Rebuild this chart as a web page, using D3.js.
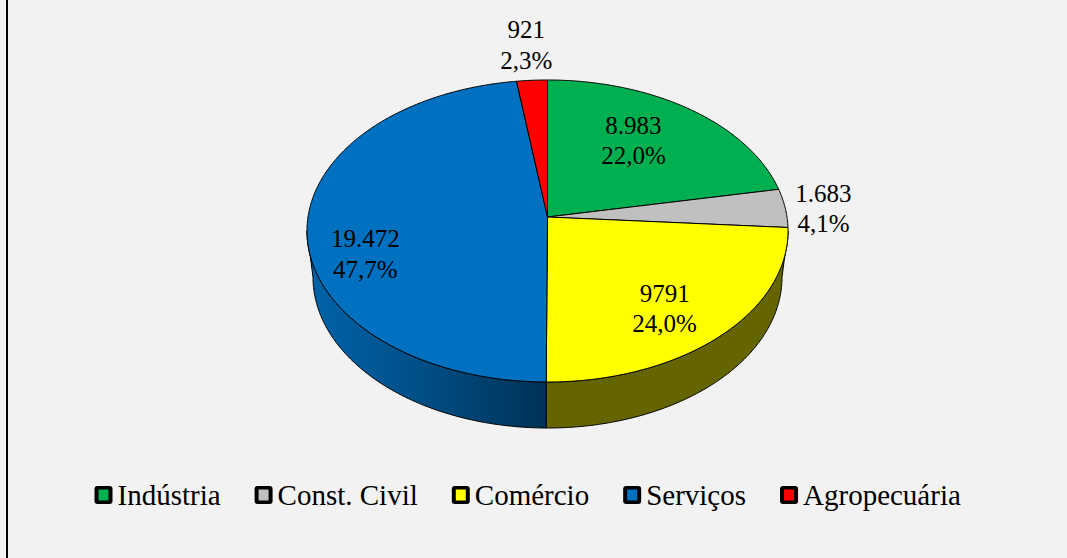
<!DOCTYPE html>
<html>
<head>
<meta charset="utf-8">
<script src="https://cdn.jsdelivr.net/npm/d3@7"></script>
<style>
  html, body { margin: 0; padding: 0; background: #f2f2f2; }
  svg { display: block; }
</style>
</head>
<body>
<div id="chart"></div>
<script>
const categories = ['Indústria', 'Const. Civil', 'Comércio', 'Serviços', 'Agropecuária'];
const values = [8983, 1683, 9791, 19472, 921];
const valueLabels = ['8.983', '1.683', '9791', '19.472', '921'];
const colors = ['#00b050', '#c0c0c0', '#ffff00', '#0070c0', '#ff0000'];

// label placement (outside for the thin slices) and hand nudges
const labelOutside = [false, true, false, false, true];
const labelNudge = [[-13, -2], [-9, 2], [1, 13], [-19, 30], [-3, -11]];

const width = 1067, height = 558;
const serif = "'Liberation Serif', 'Times New Roman', Tinos, 'DejaVu Serif', serif";

// perspective of the tilted disc
const cx = 547.5, kx = 239.5, ay = 129.6, by = 217, cp = -0.0927;
const depth = 46, bottomScale = 0.975;

const proj = (theta, r) => {
    const u = r * Math.sin(theta), v = -r * Math.cos(theta);
    const den = 1 + cp * v;
    return [cx + kx * u / den, (ay * v + by) / den];
};
const projBottom = (theta) => {
    const [x, y] = proj(theta, 1);
    return [cx + bottomScale * (x - cx), y + depth];
};
const arcPoints = (a0, a1, f) => {
    const n = Math.max(2, Math.ceil(Math.abs(a1 - a0) / (Math.PI / 360)));
    return d3.range(n + 1).map(i => f(a0 + (a1 - a0) * i / n));
};

const ptBR = d3.formatLocale({ decimal: ',', thousands: '.', grouping: [3], currency: ['', ''] });
const pct = ptBR.format('.1%');
const total = d3.sum(values);

const pie = d3.pie().sort(null).startAngle(0).endAngle(2 * Math.PI);
const slices = pie(values).map((d, i) => ({ ...d, i }));

const svg = d3.select('#chart')
    .append('svg')
    .attr('width', width)
    .attr('height', height)
    .style('font-family', serif);

svg.append('rect').attr('width', width).attr('height', height).attr('fill', '#f2f2f2');
svg.append('line')
    .attr('x1', 7).attr('x2', 7).attr('y1', 0).attr('y2', height)
    .attr('stroke', '#000').attr('stroke-width', 2);

const line = d3.line();

// side gradients
const defs = svg.append('defs');
slices.forEach(d => {
    const c = d3.color(colors[d.i]);
    const g = defs.append('linearGradient')
        .attr('id', 'side' + d.i)
        .attr('gradientUnits', 'userSpaceOnUse')
        .attr('x1', cx - kx).attr('x2', cx + kx)
        .attr('y1', 0).attr('y2', 0);
    [[0, 0.35], [0.25, 1.05], [0.5, 2.3], [0.5, 2.6], [1, 2.6]].forEach(([o, k]) => {
        g.append('stop').attr('offset', o).attr('stop-color', c.darker(k).formatHex());
    });
});

// visible part of the rim
const visLo = Math.acos(cp), visHi = 2 * Math.PI - Math.acos(cp);
const sides = svg.append('g');
slices.forEach(d => {
    const a0 = Math.max(d.startAngle, visLo), a1 = Math.min(d.endAngle, visHi);
    if (a1 <= a0) return;
    const pts = arcPoints(a0, a1, t => proj(t, 1)).concat(arcPoints(a1, a0, projBottom));
    sides.append('path')
        .attr('d', line(pts) + 'Z')
        .attr('fill', `url(#side${d.i})`)
        .attr('stroke', '#000')
        .attr('stroke-width', 1)
        .attr('stroke-linejoin', 'round');
});

// top faces
const tops = svg.append('g');
slices.forEach(d => {
    const pts = [proj(0, 0)].concat(arcPoints(d.startAngle, d.endAngle, t => proj(t, 1)));
    tops.append('path')
        .attr('d', line(pts) + 'Z')
        .attr('fill', colors[d.i])
        .attr('stroke', '#000')
        .attr('stroke-width', 1)
        .attr('stroke-linejoin', 'round');
});

// data labels
const labels = svg.append('g').attr('text-anchor', 'middle');
slices.forEach(d => {
    const mid = (d.startAngle + d.endAngle) / 2;
    const [x0, y0] = proj(mid, labelOutside[d.i] ? 1.2 : 0.68);
    const x = x0 + labelNudge[d.i][0], y = y0 + labelNudge[d.i][1];
    const t = labels.append('text')
        .attr('x', x).attr('y', y - 6.5)
        .style('font-family', serif).style('font-size', '25px');
    t.append('tspan').attr('x', x).text(valueLabels[d.i]);
    t.append('tspan').attr('x', x).attr('dy', 30.5).text(pct(values[d.i] / total));
});

// legend
const legend = svg.append('g');
let lx = 94.5;
categories.forEach((name, i) => {
    const item = legend.append('g');
    item.append('rect')
        .attr('x', lx).attr('y', 486).attr('width', 18).attr('height', 18)
        .attr('rx', 3).attr('fill', '#000');
    item.append('rect')
        .attr('x', lx + 4).attr('y', 489.5).attr('width', 10).attr('height', 11)
        .attr('fill', colors[i]);
    const txt = item.append('text')
        .attr('x', lx + 23).attr('y', 504.5)
        .style('font-family', serif).style('font-size', '29px')
        .text(name);
    lx += 23 + txt.node().getComputedTextLength() + 34;
});
</script>
</body>
</html>
